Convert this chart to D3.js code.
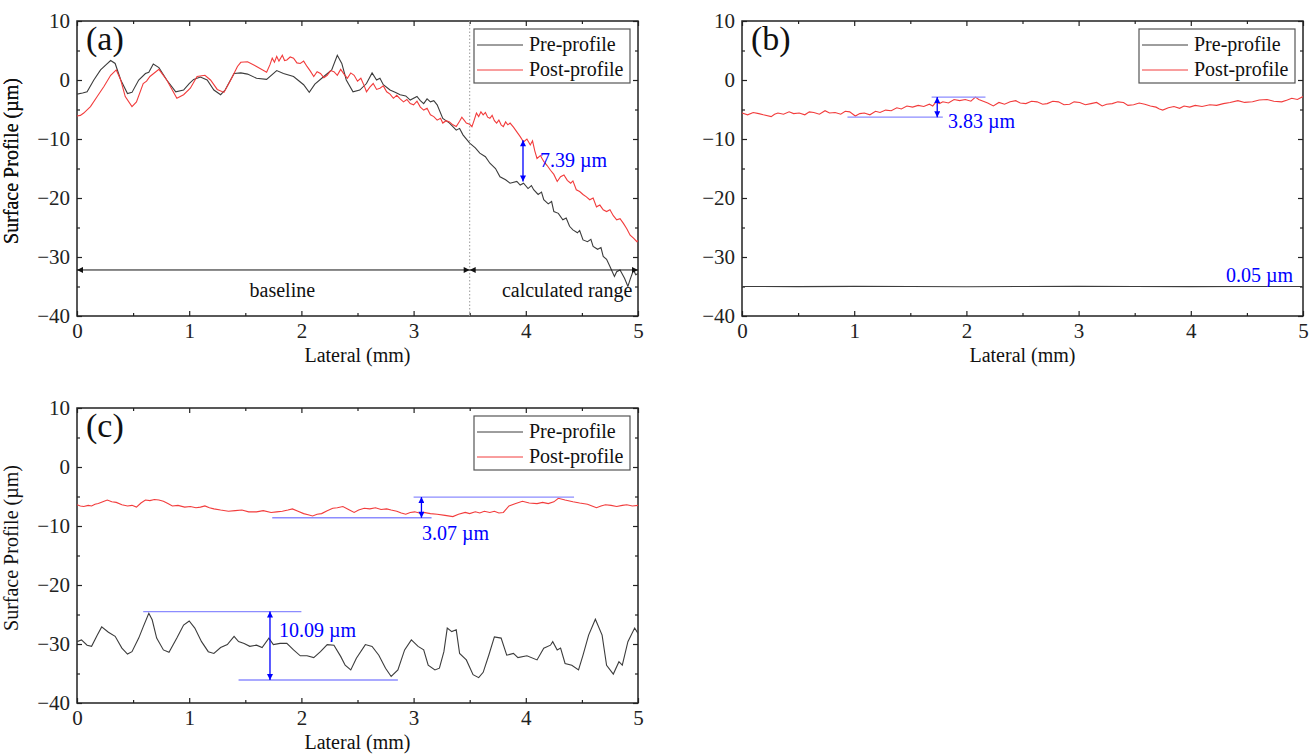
<!DOCTYPE html>
<html>
<head>
<meta charset="utf-8">
<script src="https://cdn.jsdelivr.net/npm/d3@7"></script>
<style>
body { margin: 0; background: #fff; }
svg text { font-family: "Liberation Serif", "Times New Roman", serif; }
</style>
</head>
<body>
<svg id="fig" width="1314" height="756"></svg>
<script>
var xTicks = [0, 1, 2, 3, 4, 5];
var yTicks = [-40, -30, -20, -10, 0, 10];
var seriesNames = ["Pre-profile", "Post-profile"];

// (a) pre / post profile, [lateral mm, height um]
var preA = [[0,-2.4],[0.05,-2.2],[0.09,-2.0],[0.15,0],[0.21,1.7],[0.26,2.6],[0.30,3.3],[0.34,2.8],[0.39,0],[0.45,-2.3],[0.49,-2.1],[0.55,0],[0.61,1.1],[0.64,1.3],[0.68,2.7],[0.73,2.1],[0.80,0],[0.88,-2.0],[0.95,-1.7],[1.0,-0.6],[1.04,0.1],[1.10,0.5],[1.16,0],[1.22,-1.7],[1.28,-2.5],[1.32,-1.7],[1.40,1.1],[1.46,1.2],[1.52,1.0],[1.60,0.3],[1.69,0.1],[1.78,1.6],[1.84,1.1],[1.93,0.6],[2.02,-0.8],[2.07,-2.1],[2.12,-0.7],[2.20,0.6],[2.27,1.7],[2.32,4.2],[2.36,2.8],[2.40,0],[2.46,-2.0],[2.52,-1.7],[2.58,-0.6],[2.63,1.2],[2.67,0],[2.70,0.3],[2.73,-0.8],[2.79,-1.7],[2.84,-2.1],[2.88,-2.5],[2.93,-2.7],[2.97,-3.4],[3.03,-2.8],[3.06,-3.5],[3.09,-4.0],[3.12,-3.2],[3.15,-3.7],[3.18,-3.5],[3.21,-4.2],[3.26,-6.5],[3.32,-7.3],[3.38,-8.5],[3.41,-8.2],[3.44,-9.3],[3.50,-10.7],[3.55,-11.5],[3.59,-12.4],[3.64,-13.0],[3.68,-14.1],[3.73,-15.0],[3.77,-16.4],[3.82,-16.9],[3.86,-17.5],[3.92,-17.2],[3.95,-17.8],[3.98,-17.5],[4.02,-18.4],[4.05,-17.9],[4.07,-18.6],[4.11,-19.4],[4.14,-19.0],[4.16,-20.3],[4.20,-21.0],[4.23,-20.6],[4.25,-22.3],[4.29,-22.6],[4.33,-23.7],[4.36,-23.4],[4.39,-24.8],[4.42,-25.4],[4.46,-25.9],[4.48,-25.5],[4.51,-27.1],[4.55,-27.4],[4.58,-27.0],[4.60,-28.2],[4.64,-28.7],[4.67,-28.4],[4.69,-29.9],[4.72,-30.4],[4.75,-31.6],[4.79,-33.3],[4.81,-32.5],[4.84,-32.2],[4.88,-33.6],[4.91,-35.0],[4.93,-33.8],[4.96,-32.2],[4.98,-33.0],[5.0,-32.8]];
var postA = [[0,-6.1],[0.03,-6.0],[0.06,-5.6],[0.12,-4.5],[0.18,-2.8],[0.24,-1.1],[0.30,0.8],[0.35,1.7],[0.39,0],[0.43,-2.8],[0.49,-4.5],[0.53,-3.7],[0.59,-0.6],[0.62,-0.2],[0.65,0.6],[0.73,1.8],[0.80,0],[0.89,-3.1],[0.95,-2.5],[1.01,-1.4],[1.07,0.6],[1.14,0.8],[1.19,0],[1.25,-1.6],[1.31,-2.1],[1.37,0],[1.43,2.3],[1.46,3.0],[1.52,3.1],[1.60,2.3],[1.69,1.3],[1.72,2.6],[1.74,3.7],[1.76,3.0],[1.78,4.0],[1.80,3.2],[1.83,4.2],[1.85,3.3],[1.87,3.4],[1.90,3.9],[1.93,3.7],[1.96,2.9],[1.99,2.8],[2.02,3.2],[2.05,2.3],[2.08,1.5],[2.11,0.6],[2.14,1.4],[2.17,1.1],[2.20,0.4],[2.23,0.8],[2.26,1.6],[2.29,1.4],[2.32,0.8],[2.35,1.8],[2.38,1.0],[2.41,0.3],[2.44,1.2],[2.47,0.8],[2.50,-0.2],[2.53,0.3],[2.56,-1.0],[2.58,-2.0],[2.61,-1.2],[2.64,-0.6],[2.67,-1.6],[2.70,-1.4],[2.73,-1.0],[2.76,-2.0],[2.79,-2.4],[2.82,-3.1],[2.85,-2.6],[2.88,-3.2],[2.91,-3.7],[2.94,-3.3],[2.97,-4.0],[3.0,-4.2],[3.03,-3.6],[3.06,-4.6],[3.09,-5.1],[3.12,-4.8],[3.15,-5.9],[3.18,-6.2],[3.21,-6.8],[3.24,-6.5],[3.26,-7.3],[3.29,-6.9],[3.32,-7.1],[3.35,-7.6],[3.38,-7.9],[3.41,-7.0],[3.43,-6.3],[3.45,-6.8],[3.47,-7.3],[3.50,-7.5],[3.52,-7.9],[3.54,-6.8],[3.56,-5.6],[3.58,-6.2],[3.60,-5.4],[3.62,-5.9],[3.64,-5.5],[3.66,-6.3],[3.68,-6.5],[3.70,-6.0],[3.72,-6.9],[3.74,-7.3],[3.76,-6.8],[3.78,-7.6],[3.80,-7.9],[3.82,-7.1],[3.84,-7.6],[3.86,-7.3],[3.89,-8.0],[3.92,-8.8],[3.95,-9.6],[3.98,-10.5],[4.01,-10.0],[4.04,-11.0],[4.06,-10.3],[4.08,-12.0],[4.10,-13.3],[4.13,-12.8],[4.16,-13.8],[4.19,-14.5],[4.22,-15.3],[4.25,-16.0],[4.28,-17.2],[4.31,-16.4],[4.34,-16.1],[4.37,-17.0],[4.40,-17.5],[4.42,-17.1],[4.45,-18.6],[4.48,-18.9],[4.51,-19.4],[4.54,-19.8],[4.57,-20.3],[4.60,-20.0],[4.63,-21.5],[4.66,-21.2],[4.69,-22.0],[4.72,-22.3],[4.75,-22.0],[4.78,-23.0],[4.81,-23.7],[4.84,-23.5],[4.87,-24.3],[4.90,-25.2],[4.93,-26.3],[4.96,-26.8],[4.99,-27.4],[5.0,-27.2]];

// (b)
var preB = [[0,-35.0],[0.5,-35.02],[1,-34.98],[1.5,-35.0],[2,-35.03],[2.5,-35.0],[3,-34.98],[3.5,-35.0],[4,-35.02],[4.5,-34.99],[5,-35.0]];
var postB = [[0,-5.6],[0.05,-5.9],[0.10,-5.5],[0.15,-5.7],[0.19,-5.9],[0.26,-6.2],[0.29,-5.8],[0.32,-5.6],[0.37,-5.8],[0.42,-5.4],[0.46,-5.7],[0.51,-5.6],[0.56,-5.9],[0.60,-5.4],[0.64,-5.5],[0.69,-5.8],[0.74,-5.2],[0.78,-5.6],[0.83,-5.5],[0.88,-5.8],[0.92,-5.3],[0.96,-5.4],[1.01,-6.1],[1.05,-5.7],[1.09,-5.6],[1.14,-5.9],[1.19,-5.3],[1.23,-5.5],[1.28,-5.1],[1.33,-5.2],[1.38,-4.7],[1.42,-4.9],[1.47,-4.4],[1.52,-4.6],[1.57,-4.3],[1.62,-4.5],[1.67,-4.1],[1.70,-4.4],[1.73,-3.7],[1.76,-4.0],[1.79,-3.7],[1.84,-3.9],[1.89,-3.3],[1.94,-3.5],[1.99,-3.3],[2.04,-3.6],[2.08,-2.9],[2.11,-3.3],[2.15,-3.6],[2.19,-3.9],[2.24,-4.4],[2.29,-3.8],[2.34,-4.1],[2.39,-3.7],[2.44,-3.5],[2.48,-3.9],[2.53,-4.0],[2.58,-3.6],[2.63,-3.7],[2.68,-4.1],[2.72,-4.0],[2.77,-3.6],[2.82,-3.7],[2.87,-4.2],[2.92,-4.1],[2.96,-3.7],[3.01,-3.8],[3.06,-4.2],[3.11,-4.0],[3.16,-3.8],[3.21,-4.4],[3.25,-4.1],[3.30,-4.0],[3.35,-3.7],[3.40,-3.8],[3.44,-4.3],[3.49,-4.2],[3.54,-3.9],[3.59,-4.1],[3.64,-4.4],[3.69,-4.6],[3.72,-4.9],[3.75,-5.1],[3.80,-4.7],[3.85,-4.5],[3.90,-4.8],[3.94,-4.4],[3.99,-4.6],[4.04,-4.3],[4.10,-4.5],[4.17,-4.2],[4.23,-4.3],[4.29,-4.0],[4.35,-3.8],[4.42,-3.5],[4.48,-3.8],[4.55,-3.7],[4.61,-3.4],[4.68,-3.3],[4.74,-3.6],[4.81,-3.7],[4.86,-3.4],[4.90,-3.1],[4.95,-3.3],[5.0,-2.8]];

// (c)
var preC = [[0,-29.6],[0.04,-29.3],[0.09,-30.2],[0.13,-30.4],[0.18,-28.5],[0.22,-27.1],[0.28,-28.0],[0.34,-28.7],[0.40,-30.7],[0.45,-31.7],[0.49,-31.3],[0.55,-29.0],[0.59,-27.1],[0.64,-24.8],[0.67,-25.9],[0.71,-29.0],[0.77,-31.0],[0.82,-31.4],[0.89,-29.0],[0.95,-26.8],[1.0,-26.1],[1.05,-27.3],[1.11,-29.6],[1.17,-31.3],[1.22,-31.6],[1.28,-30.6],[1.34,-30.1],[1.40,-28.7],[1.44,-29.6],[1.49,-29.9],[1.54,-30.4],[1.60,-30.2],[1.65,-30.6],[1.71,-29.0],[1.75,-30.1],[1.81,-29.9],[1.87,-29.9],[1.93,-31.0],[1.99,-32.0],[2.05,-32.0],[2.11,-32.3],[2.17,-31.3],[2.23,-30.1],[2.29,-30.2],[2.35,-32.1],[2.39,-33.6],[2.44,-34.4],[2.49,-32.4],[2.57,-30.1],[2.63,-30.4],[2.69,-31.9],[2.75,-34.1],[2.80,-35.5],[2.86,-34.4],[2.92,-31.0],[2.98,-29.3],[3.04,-30.4],[3.09,-31.0],[3.13,-33.6],[3.19,-34.4],[3.23,-34.1],[3.27,-31.3],[3.30,-27.3],[3.34,-27.9],[3.38,-27.6],[3.41,-31.6],[3.47,-32.7],[3.53,-35.2],[3.58,-35.7],[3.62,-34.8],[3.67,-31.9],[3.72,-28.8],[3.78,-29.0],[3.83,-31.9],[3.89,-31.6],[3.93,-32.3],[4.01,-32.0],[4.10,-32.7],[4.16,-30.7],[4.22,-30.2],[4.24,-29.6],[4.28,-31.0],[4.31,-30.7],[4.35,-33.3],[4.41,-33.6],[4.47,-34.4],[4.51,-31.9],[4.56,-28.5],[4.62,-25.8],[4.68,-28.5],[4.72,-33.6],[4.78,-35.1],[4.83,-33.0],[4.86,-33.6],[4.91,-29.6],[4.97,-27.3],[5.0,-28.2]];
var postC = [[0,-6.4],[0.03,-6.6],[0.06,-6.7],[0.10,-6.5],[0.13,-6.6],[0.16,-6.3],[0.19,-6.2],[0.23,-5.9],[0.27,-5.6],[0.31,-5.9],[0.35,-6.0],[0.40,-6.4],[0.45,-6.6],[0.49,-6.5],[0.53,-6.8],[0.57,-6.1],[0.61,-5.6],[0.65,-5.7],[0.69,-5.5],[0.73,-5.6],[0.77,-5.8],[0.81,-6.2],[0.85,-6.6],[0.90,-6.5],[0.96,-6.8],[1.01,-6.7],[1.06,-6.9],[1.10,-6.8],[1.14,-6.6],[1.18,-6.9],[1.22,-7.1],[1.28,-7.3],[1.35,-7.5],[1.41,-7.4],[1.47,-7.3],[1.53,-7.6],[1.60,-7.6],[1.66,-7.4],[1.73,-7.7],[1.78,-7.6],[1.83,-7.5],[1.88,-7.3],[1.92,-7.1],[1.97,-7.5],[2.02,-7.9],[2.06,-8.1],[2.10,-8.3],[2.14,-8.0],[2.18,-7.9],[2.23,-7.4],[2.28,-7.0],[2.32,-6.9],[2.37,-6.7],[2.42,-7.2],[2.47,-7.7],[2.51,-7.3],[2.56,-7.0],[2.61,-7.1],[2.66,-6.9],[2.71,-7.2],[2.76,-7.1],[2.80,-7.3],[2.85,-7.5],[2.89,-7.8],[2.93,-8.0],[2.97,-7.7],[3.01,-7.6],[3.05,-7.8],[3.09,-7.7],[3.15,-7.9],[3.21,-8.0],[3.28,-8.2],[3.35,-8.4],[3.40,-8.0],[3.46,-7.7],[3.50,-7.9],[3.55,-7.6],[3.59,-7.8],[3.63,-7.5],[3.68,-7.7],[3.72,-7.5],[3.76,-7.8],[3.80,-7.7],[3.85,-6.6],[3.91,-6.2],[3.97,-5.8],[4.03,-6.1],[4.10,-6.2],[4.15,-6.0],[4.20,-6.2],[4.25,-5.9],[4.29,-5.3],[4.35,-5.6],[4.42,-5.9],[4.48,-6.1],[4.55,-6.3],[4.59,-6.6],[4.63,-6.9],[4.67,-6.6],[4.71,-6.4],[4.76,-6.5],[4.81,-6.7],[4.86,-6.5],[4.90,-6.4],[4.95,-6.6],[5.0,-6.5]];

var W = 561, H = 295;
var preColor = "#3c3c3c", postColor = "#f23c3c", blue = "#0000ff", lightBlue = "#8c8cff";

var svg = d3.select("#fig");
var defs = svg.append("defs");

function addMarker(id, color, len, wid) {
	defs.append("marker")
		.attr("id", id)
		.attr("viewBox", "0 0 10 10")
		.attr("refX", 10)
		.attr("refY", 5)
		.attr("markerUnits", "userSpaceOnUse")
		.attr("markerWidth", len)
		.attr("markerHeight", wid)
		.attr("orient", "auto-start-reverse")
		.append("path")
		.attr("d", "M0,0 L10,5 L0,10 z")
		.attr("fill", color);
}
addMarker("arrBlack", "#111", 9, 6);
addMarker("arrBlue", blue, 7, 6);

function drawPanel(cfg) {
	var g = svg.append("g").attr("transform", "translate(" + cfg.left + "," + cfg.top + ")");

	var x = d3.scaleLinear().domain([0, 5]).range([0, W]);
	var y = d3.scaleLinear().domain([-40, 10]).range([H, 0]);

	var minorX = d3.range(0.5, 5, 1);
	var minorY = d3.range(-35, 10, 10);

	// axes, ticks pointing inward
	function axisSet(axisFn, scale, major, minor, transform, labels) {
		var a = g.append("g").attr("transform", transform)
			.call(axisFn(scale).tickValues(major).tickSizeInner(-5).tickSizeOuter(0).tickPadding(7)
				.tickFormat(labels ? d3.format("d") : ""));
		a.select(".domain").remove();
		a.selectAll("line").attr("stroke", "#222").attr("stroke-width", 1.2);
		a.selectAll("text").attr("font-size", "21px").attr("fill", "#222")
			.style("font-family", "'Liberation Serif', serif");
		var m = g.append("g").attr("transform", transform)
			.call(axisFn(scale).tickValues(minor).tickSizeInner(-3).tickSizeOuter(0).tickFormat(""));
		m.select(".domain").remove();
		m.selectAll("line").attr("stroke", "#222").attr("stroke-width", 1.2);
		return a;
	}
	axisSet(d3.axisBottom, x, xTicks, minorX, "translate(0," + H + ")", true);
	axisSet(d3.axisTop, x, xTicks, minorX, "translate(0,0)", false);
	axisSet(d3.axisLeft, y, yTicks, minorY, "translate(0,0)", true);
	axisSet(d3.axisRight, y, yTicks, minorY, "translate(" + W + ",0)", false);

	g.append("rect")
		.attr("width", W).attr("height", H)
		.attr("fill", "none").attr("stroke", "#222").attr("stroke-width", 1.5);

	var clipId = "clip-" + cfg.label;
	defs.append("clipPath").attr("id", clipId)
		.append("rect").attr("width", W).attr("height", H);

	var line = d3.line().x(function(d) { return x(d[0]); }).y(function(d) { return y(d[1]); });

	var plot = g.append("g").attr("clip-path", "url(#" + clipId + ")");

	if (cfg.extra) cfg.extra(g, x, y);

	plot.append("path").datum(cfg.pre).attr("d", line)
		.attr("fill", "none").attr("stroke", preColor).attr("stroke-width", 1.1);
	plot.append("path").datum(cfg.post).attr("d", line)
		.attr("fill", "none").attr("stroke", postColor).attr("stroke-width", 1.1);

	// blue measurement marks
	(cfg.gaps || []).forEach(function(gp) {
		if (gp.ref1) {
			g.append("line").attr("x1", x(gp.ref1[0])).attr("x2", x(gp.ref1[1]))
				.attr("y1", y(gp.y1)).attr("y2", y(gp.y1))
				.attr("stroke", lightBlue).attr("stroke-width", 1.3);
		}
		if (gp.ref2) {
			g.append("line").attr("x1", x(gp.ref2[0])).attr("x2", x(gp.ref2[1]))
				.attr("y1", y(gp.y2)).attr("y2", y(gp.y2))
				.attr("stroke", lightBlue).attr("stroke-width", 1.3);
		}
		g.append("line").attr("x1", x(gp.x)).attr("x2", x(gp.x))
			.attr("y1", y(gp.y1)).attr("y2", y(gp.y2))
			.attr("stroke", blue).attr("stroke-width", 1.3)
			.attr("marker-start", "url(#arrBlue)").attr("marker-end", "url(#arrBlue)");
	});
	(cfg.notes || []).forEach(function(n) {
		g.append("text").attr("x", n.x).attr("y", n.y)
			.attr("text-anchor", n.anchor || "start")
			.attr("font-size", "20px").attr("fill", n.color || blue)
			.text(n.text);
	});

	// legend
	var lg = g.append("g").attr("transform", "translate(" + (W - 164) + ",8)");
	lg.append("rect").attr("width", 156).attr("height", 54)
		.attr("fill", "#fff").attr("stroke", "#555").attr("stroke-width", 1.2);
	seriesNames.forEach(function(name, i) {
		var ly = 16 + i * 25;
		lg.append("line").attr("x1", 3).attr("x2", 49).attr("y1", ly).attr("y2", ly)
			.attr("stroke", i === 0 ? preColor : postColor).attr("stroke-width", 1);
		lg.append("text").attr("x", 55).attr("y", ly + 6)
			.attr("font-size", "20px").attr("fill", "#111").text(name);
	});

	// panel label and axis titles
	g.append("text").attr("x", 9).attr("y", 29)
		.attr("font-size", "34px").attr("fill", "#111").text("(" + cfg.label + ")");
	g.append("text")
		.attr("transform", "translate(" + (18 - cfg.left) + "," + 140 + ") rotate(-90)")
		.attr("text-anchor", "middle").attr("font-size", "20px").attr("fill", "#111")
		.text("Surface Profile (\u00b5m)");
	g.append("text").attr("x", W / 2).attr("y", 341)
		.attr("text-anchor", "middle").attr("font-size", "20px").attr("fill", "#111")
		.text("Lateral (mm)");
}

// panel (a)
drawPanel({
	label: "a", left: 77, top: 21, pre: preA, post: postA,
	extra: function(g, x, y) {
		g.append("line").attr("x1", x(3.5)).attr("x2", x(3.5)).attr("y1", 0).attr("y2", H)
			.attr("stroke", "#999").attr("stroke-width", 1).attr("stroke-dasharray", "1.5,2");
		[[0, 3.5], [3.5, 5]].forEach(function(seg) {
			g.append("line").attr("x1", x(seg[0])).attr("x2", x(seg[1]))
				.attr("y1", y(-32.2)).attr("y2", y(-32.2))
				.attr("stroke", "#111").attr("stroke-width", 1)
				.attr("marker-start", "url(#arrBlack)").attr("marker-end", "url(#arrBlack)");
		});
		g.append("text").attr("x", x(1.83)).attr("y", 276).attr("text-anchor", "middle")
			.attr("font-size", "20px").attr("fill", "#111").text("baseline");
		g.append("text").attr("x", x(4.95)).attr("y", 276).attr("text-anchor", "end")
			.attr("font-size", "20px").attr("fill", "#111").text("calculated range");
	},
	gaps: [{x: 3.975, y1: -10.2, y2: -17.2}],
	notes: [{x: 463, y: 146, text: "7.39 \u00b5m"}]
});

// panel (b)
drawPanel({
	label: "b", left: 742, top: 21, pre: preB, post: postB,
	gaps: [{x: 1.74, y1: -2.9, y2: -6.3, ref1: [1.69, 2.17], ref2: [0.94, 1.79]}],
	notes: [{x: 206, y: 107, text: "3.83 \u00b5m"}, {x: 551, y: 261, text: "0.05 \u00b5m", anchor: "end"}]
});

// panel (c)
drawPanel({
	label: "c", left: 77, top: 408, pre: preC, post: postC,
	gaps: [
		{x: 3.07, y1: -5.1, y2: -8.6, ref1: [3.0, 4.43], ref2: [1.74, 3.16]},
		{x: 1.72, y1: -24.5, y2: -36.1, ref1: [0.59, 2.0], ref2: [1.44, 2.86]}
	],
	notes: [{x: 345, y: 132, text: "3.07 \u00b5m"}, {x: 202, y: 229, text: "10.09 \u00b5m"}]
});
</script>
</body>
</html>
